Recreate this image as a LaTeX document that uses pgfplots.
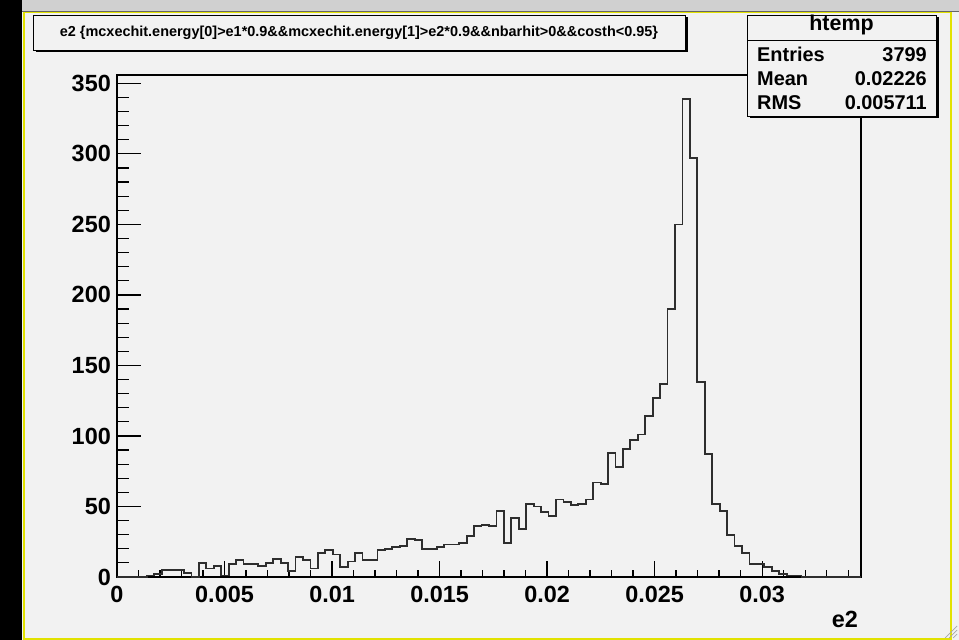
\documentclass[border=0pt]{standalone}
\usepackage{fontspec}
\setmainfont{Liberation Sans}
\usepackage{pgfplots}
\usepackage{pgfplotstable}
\pgfplotsset{compat=1.18}
\definecolor{canvas}{HTML}{F2F2F2}
\definecolor{topgray}{HTML}{D0D0D0}
\definecolor{rootyellow}{HTML}{E2E200}
\definecolor{histline}{HTML}{2E2E2E}

\pgfplotstableread{
x y
0 0
0.001384 1
0.001730 2
0.002076 5
0.002422 5
0.002768 5
0.003114 3
0.003460 0
0.003806 10
0.004152 6
0.004498 8
0.004844 1
0.005190 9
0.005536 12
0.005882 9
0.006228 9
0.006574 8
0.006920 10
0.007266 13
0.007612 10
0.007958 4
0.008304 14
0.008650 12
0.008996 6
0.009342 17
0.009688 19
0.010034 16
0.010380 7
0.010726 11
0.011072 17
0.011418 12
0.011764 12
0.012110 19
0.012456 20
0.012802 21
0.013148 22
0.013494 27
0.013840 26
0.014186 20
0.014532 20
0.014878 21
0.015224 23
0.015570 23
0.015916 24
0.016262 29
0.016608 36
0.016954 37
0.017300 36
0.017646 47
0.017992 24
0.018338 42
0.018684 34
0.019030 52
0.019376 50
0.019722 46
0.020068 43
0.020414 55
0.020760 53
0.021106 51
0.021452 52
0.021798 55
0.022144 67
0.022490 66
0.022836 88
0.023182 78
0.023528 91
0.023874 97
0.024220 101
0.024566 114
0.024912 127
0.025258 137
0.025604 190
0.025950 250
0.026296 339
0.026642 297
0.026988 138
0.027334 87
0.027680 52
0.028026 47
0.028372 30
0.028718 22
0.029064 17
0.029410 9
0.029756 9
0.030102 7
0.030448 4
0.030794 2
0.031140 1
0.031486 1
0.031832 0
0.034600 0
}\histdata

\begin{document}
\begin{tikzpicture}[x=1bp,y=1bp]
\path[use as bounding box] (0,0) rectangle (959,640);
\fill[canvas] (0,0) rectangle (959,640);
\fill[black] (0,0) rectangle (22,640);
\fill[topgray] (22,629) rectangle (959,640);
\draw[black!60, line width=0.8] (22,628.6) -- (959,628.6);
\draw[rootyellow, line width=1.6] (23.8,1.2) rectangle (951,627.5);
\draw[black!35, line width=0.7] (945,2) -- (957,14) (949,2) -- (957,10) (953,2) -- (957,6);

% title box
\fill[black] (35.5,587.5) rectangle (687.5,622.5);
\filldraw[fill=canvas, draw=black, line width=0.8] (33,590) rectangle (685,625);
\node[font=\fontsize{14.5}{17}\selectfont\bfseries, inner sep=0pt] at (359,607)
  {e2 \{mcxechit.energy[0]>e1*0.9\&\&mcxechit.energy[1]>e2*0.9\&\&nbarhit>0\&\&costh<0.95\}};

\begin{axis}[
  at={(117bp,63bp)}, anchor=origin,
  scale only axis, width=744bp, height=502bp,
  xmin=0, xmax=0.0346, ymin=0, ymax=355.95,
  scaled x ticks=false, scaled y ticks=false,
  axis line style={black, line width=1.2bp},
  xtick={0,0.005,0.01,0.015,0.02,0.025,0.03},
  xticklabels={0,0.005,0.01,0.015,0.02,0.025,0.03},
  minor xtick={0.001,0.002,0.003,0.004,0.006,0.007,0.008,0.009,0.011,0.012,0.013,0.014,0.016,0.017,0.018,0.019,0.021,0.022,0.023,0.024,0.026,0.027,0.028,0.029,0.031,0.032,0.033,0.034},
  ytick={0,50,100,150,200,250,300,350},
  yticklabels={0,50,100,150,200,250,300,350},
  minor ytick={10,20,30,40,60,70,80,90,110,120,130,140,160,170,180,190,210,220,230,240,260,270,280,290,310,320,330,340},
  tick align=inside, xtick pos=left, ytick pos=left,
  tick style={black, line width=1.2bp},
  x tick style={/pgfplots/major tick length=15.7bp, /pgfplots/minor tick length=7.3bp},
  y tick style={/pgfplots/major tick length=24bp, /pgfplots/minor tick length=12bp},
  ticklabel style={font=\fontsize{23.5}{28}\selectfont\bfseries, inner sep=0pt},
  xticklabel style={yshift=-9bp},
  yticklabel style={xshift=-6bp},
  xlabel={e2},
  xlabel style={at={(rel axis cs:1,0)}, anchor=base east, yshift=-51bp, xshift=-3bp,
    font=\fontsize{23.5}{28}\selectfont\bfseries, inner sep=0pt},
  /pgf/number format/assume math mode=true,
  clip=false,
]
\addplot[const plot, histline, line width=1.8bp, mark=none] table[x=x, y=y] {\histdata};
\end{axis}

% stats box
\fill[black] (749.5,521.5) rectangle (938.5,622.5);
\filldraw[fill=canvas, draw=black, line width=0.8] (747,524) rectangle (936,625);
\draw[black, line width=0.8] (747,600) -- (936,600);
\node[anchor=base, inner sep=0pt, font=\fontsize{21.5}{24}\selectfont\bfseries] at (841.5,609) {htemp};
\begin{scope}[font=\fontsize{20}{24}\selectfont\bfseries]
\node[anchor=base west, inner sep=0pt] at (757,578) {Entries};
\node[anchor=base east, inner sep=0pt] at (927,578) {3799};
\node[anchor=base west, inner sep=0pt] at (757,554) {Mean};
\node[anchor=base east, inner sep=0pt] at (927,554) {0.02226};
\node[anchor=base west, inner sep=0pt] at (757,530) {RMS};
\node[anchor=base east, inner sep=0pt] at (927,530) {0.005711};
\end{scope}
\end{tikzpicture}
\end{document}
